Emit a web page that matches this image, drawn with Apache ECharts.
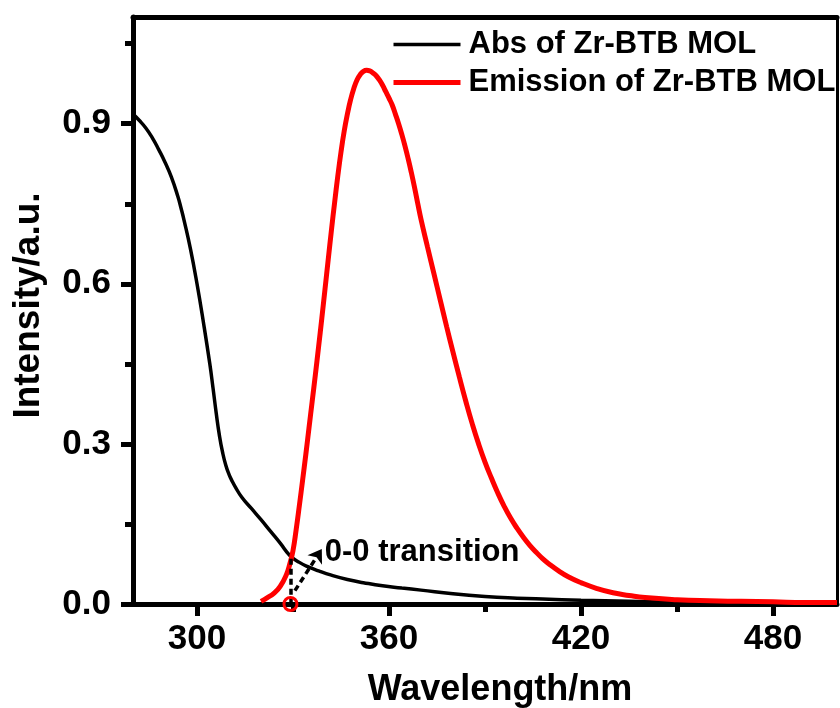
<!DOCTYPE html>
<html>
<head>
<meta charset="utf-8">
<script src="https://cdn.jsdelivr.net/npm/echarts@6/dist/echarts.min.js"></script>
<style>
  html, body { margin: 0; padding: 0; background: #fff; }
  #chart { width: 840px; height: 708px; }
</style>
</head>
<body>
<div id="chart"></div>
<script>
// absorption spectrum
const absWavelength = [280, 282, 284, 286, 288, 290, 292, 294, 295, 296, 298, 300, 302, 304, 305, 306, 307, 308, 309, 310, 311, 312, 314, 317, 320, 323, 326, 329, 332, 335, 338, 342, 347, 352, 358, 364, 370, 380, 390, 400, 410, 420, 435, 450, 470, 500];
const absIntensity = [0.918, 0.906, 0.892, 0.874, 0.852, 0.828, 0.800, 0.764, 0.742, 0.718, 0.664, 0.600, 0.528, 0.450, 0.405, 0.358, 0.316, 0.284, 0.260, 0.243, 0.230, 0.219, 0.200, 0.179, 0.158, 0.136, 0.114, 0.091, 0.078, 0.069, 0.062, 0.054, 0.046, 0.040, 0.034, 0.030, 0.026, 0.019, 0.014, 0.011, 0.009, 0.007, 0.005, 0.003, 0.002, 0.001];

// emission spectrum
const emWavelength = [320, 322, 324, 326, 328, 329, 330, 331, 332, 333, 334, 335, 336, 337, 338, 339, 340, 341, 342, 343, 344, 345, 346, 347, 348, 349, 350, 351, 352, 353, 354, 355, 356, 357, 358, 359, 360, 361, 362, 363, 364, 365, 366, 367, 368, 369, 370, 372, 374, 376, 378, 380, 382, 384, 386, 388, 390, 392, 394, 396, 398, 400, 402, 404, 406, 408, 410, 413, 416, 420, 425, 430, 435, 440, 450, 460, 470, 480, 490, 500];
const emIntensity = [0.005, 0.012, 0.020, 0.033, 0.056, 0.075, 0.100, 0.140, 0.185, 0.232, 0.280, 0.330, 0.380, 0.430, 0.482, 0.535, 0.590, 0.645, 0.700, 0.752, 0.802, 0.847, 0.886, 0.918, 0.945, 0.966, 0.982, 0.992, 0.998, 1.000, 0.999, 0.995, 0.990, 0.982, 0.972, 0.960, 0.948, 0.935, 0.918, 0.900, 0.880, 0.858, 0.834, 0.808, 0.780, 0.750, 0.721, 0.670, 0.620, 0.570, 0.520, 0.472, 0.425, 0.380, 0.338, 0.300, 0.266, 0.236, 0.208, 0.183, 0.161, 0.142, 0.125, 0.110, 0.097, 0.085, 0.075, 0.062, 0.051, 0.040, 0.029, 0.021, 0.016, 0.012, 0.008, 0.006, 0.005, 0.004, 0.003, 0.003];

const seriesNames = ['Abs of Zr-BTB MOL', 'Emission of Zr-BTB MOL'];

// axis ticks
const xMajorTicks = [300, 360, 420, 480];
const xMinorTicks = [330, 390, 450];
const yMajorTicks = [0, 0.3, 0.6, 0.9];
const yMinorTicks = [0.15, 0.45, 0.75, 1.05];

// 0-0 transition annotation
const crossPoint = [329.2, 0.085];
const arrowStart = [330.6, 0.025];
const arrowEnd = [339, 0.103];
const noteAnchor = [339, 0.096];
const noteText = '0-0 transition';

const font = 'Liberation Sans';

function pairs(xs, ys) {
    return xs.map((x, i) => [x, ys[i]]);
}

const chart = echarts.init(document.getElementById('chart'), null, { renderer: 'canvas' });

const hiddenAxis = {
    axisLabel: { show: false },
    splitLine: { show: false },
    axisTick: { show: false },
    axisLine: { show: false, onZero: false }
};

const option = {
    backgroundColor: '#fff',
    animation: false,
    grid: { left: 133, right: 3, top: 17, bottom: 104, outerBoundsMode: 'none', containLabel: false },
    legend: {
        orient: 'vertical',
        left: 386,
        top: 24,
        itemWidth: 67,
        itemHeight: 14,
        itemGap: 7,
        data: seriesNames,
        itemStyle: { opacity: 0 },
        lineStyle: { width: 'inherit' },
        textStyle: { fontFamily: font, fontWeight: 'bold', fontSize: 31, color: '#000', padding: [0, 0, 0, 3] }
    },
    xAxis: [
        {
            type: 'value', position: 'bottom', min: 280, max: 500,
            name: 'Wavelength/nm', nameLocation: 'middle', nameGap: 68,
            nameTextStyle: { fontFamily: font, fontWeight: 'bold', fontSize: 36, color: '#000', padding: [0, 0, 0, 30] },
            axisLine: { show: true, onZero: false, lineStyle: { color: '#000', width: 5 } },
            axisTick: { show: true, inside: false, length: 12, customValues: xMajorTicks, lineStyle: { color: '#000', width: 5 } },
            axisLabel: { show: true, margin: 18, customValues: xMajorTicks, fontFamily: font, fontWeight: 'bold', fontSize: 35, color: '#000' },
            splitLine: { show: false }
        },
        Object.assign({}, hiddenAxis, {
            type: 'value', position: 'bottom', min: 280, max: 500,
            axisTick: { show: true, inside: false, length: 8, customValues: xMinorTicks, lineStyle: { color: '#000', width: 5 } }
        }),
        Object.assign({}, hiddenAxis, {
            type: 'value', position: 'top', min: 280, max: 500,
            axisLine: { show: true, onZero: false, lineStyle: { color: '#000', width: 5 } }
        })
    ],
    yAxis: [
        {
            type: 'value', position: 'left', min: 0, max: 1.1,
            name: 'Intensity/a.u.', nameLocation: 'middle', nameGap: 86,
            nameTextStyle: { fontFamily: font, fontWeight: 'bold', fontSize: 37, color: '#000', padding: [0, 0, 0, 10] },
            axisLine: { show: true, onZero: false, lineStyle: { color: '#000', width: 5 } },
            axisTick: { show: true, inside: false, length: 12, customValues: yMajorTicks, lineStyle: { color: '#000', width: 5 } },
            axisLabel: {
                show: true, margin: 22, customValues: yMajorTicks,
                formatter: v => v.toFixed(1),
                fontFamily: font, fontWeight: 'bold', fontSize: 35, color: '#000'
            },
            splitLine: { show: false }
        },
        Object.assign({}, hiddenAxis, {
            type: 'value', position: 'left', min: 0, max: 1.1,
            axisTick: { show: true, inside: false, length: 8, customValues: yMinorTicks, lineStyle: { color: '#000', width: 5 } }
        }),
        Object.assign({}, hiddenAxis, {
            type: 'value', position: 'right', min: 0, max: 1.1,
            axisLine: { show: true, onZero: false, lineStyle: { color: '#000', width: 3 } }
        })
    ],
    series: [
        {
            name: seriesNames[0],
            type: 'line',
            xAxisIndex: 0, yAxisIndex: 0,
            data: pairs(absWavelength, absIntensity),
            smooth: 0.5,
            symbol: 'none',
            color: '#000',
            lineStyle: { color: '#000', width: 3.5 },
            z: 3,
            markLine: {
                silent: true,
                symbol: 'none',
                label: { show: false },
                lineStyle: { color: '#000', width: 3.5, type: [6, 4] },
                data: [
                    [{ coord: crossPoint }, { coord: [crossPoint[0], 0] }],
                    [{ coord: arrowStart, symbol: 'none' }, { coord: arrowEnd, symbol: 'arrow', symbolSize: 13 }]
                ]
            },
            markPoint: {
                silent: true,
                data: [{
                    coord: noteAnchor,
                    symbol: 'circle',
                    symbolSize: 0,
                    label: {
                        show: true, position: 'right', distance: 3,
                        formatter: noteText,
                        fontFamily: font, fontWeight: 'bold', fontSize: 31, color: '#000'
                    }
                }]
            }
        },
        {
            name: seriesNames[1],
            type: 'line',
            xAxisIndex: 0, yAxisIndex: 0,
            data: pairs(emWavelength, emIntensity),
            smooth: 0.5,
            symbol: 'none',
            color: '#ff0000',
            lineStyle: { color: '#ff0000', width: 5 },
            z: 4,
            markPoint: {
                silent: true,
                data: [{
                    coord: [crossPoint[0], 0],
                    symbol: 'circle',
                    symbolSize: 13,
                    itemStyle: { color: 'rgba(0,0,0,0)', borderColor: '#ff0000', borderWidth: 3 },
                    label: { show: false }
                }]
            }
        }
    ]
};

chart.setOption(option);
</script>
</body>
</html>
